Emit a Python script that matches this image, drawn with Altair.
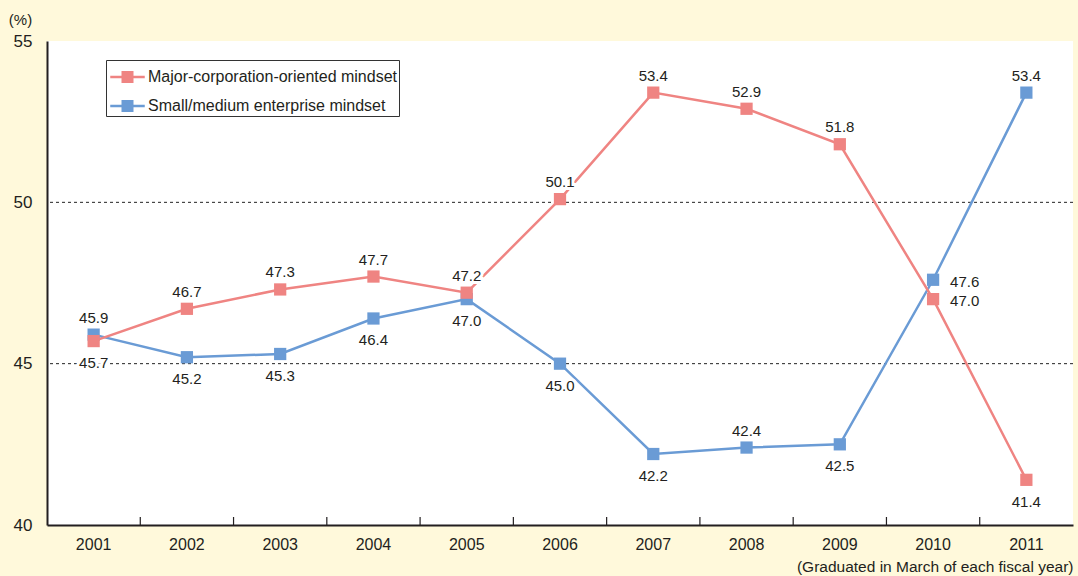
import altair as alt
import pandas as pd

years = ["2001", "2002", "2003", "2004", "2005", "2006", "2007", "2008", "2009", "2010", "2011"]
series_names = ["Major-corporation-oriented mindset", "Small/medium enterprise mindset"]
major = [45.7, 46.7, 47.3, 47.7, 47.2, 50.1, 53.4, 52.9, 51.8, 47.0, 41.4]
small = [45.9, 45.2, 45.3, 46.4, 47.0, 45.0, 42.2, 42.4, 42.5, 47.6, 53.4]
major_place = ["below", "above", "above", "above", "above", "above", "above", "above", "above", "right", "below"]
small_place = ["above", "below", "below", "below", "below", "below", "below", "above", "below", "right", "above"]
y_ticks = [40, 45, 50, 55]
grid_values = [45, 50]

FONT = "Liberation Sans Narrow, Arial Narrow, Liberation Sans, sans-serif"
RED = "#EF8482"
BLUE = "#6A9BD5"
TXT = "#231F20"
W, H = 1026, 484
series_colors = {series_names[0]: RED, series_names[1]: BLUE}

rows = []
for name, vals, places in [(series_names[0], major, major_place), (series_names[1], small, small_place)]:
    for y, v, p in zip(years, vals, places):
        rows.append({"year": y, "series": name, "value": v, "place": p})
df = pd.DataFrame(rows)

xscale = alt.Scale(domain=years, paddingInner=0, paddingOuter=0)
yscale = alt.Scale(domain=[40, 55], nice=False, zero=False)
color = alt.Color("series:N", scale=alt.Scale(domain=series_names, range=[RED, BLUE]),
                  legend=alt.Legend(title=None, labelExpr="datum.label + '\u00a0\u00a0\u00a0'"))

x_axis = alt.Axis(title="(Graduated in March of each fiscal year)", labelAngle=0,
                  ticks=False, labelPadding=11, labelFontSize=16, domainColor=TXT, domainWidth=2,
                  titleAnchor="end", titleAlign="right", titleX=W, titleY=41,
                  titleBaseline="middle", titleFontWeight="normal", titleFontSize=15.5)
y_axis = alt.Axis(values=y_ticks, grid=False, ticks=False, labelPadding=15, labelFontSize=17,
                  domainColor=TXT, domainWidth=2, title="(%)", titleAngle=0,
                  titleAlign="center", titleBaseline="bottom", titleX=-27, titleY=-14,
                  titleFontWeight="normal", titleFontSize=15)
x_enc = alt.X("year:N", scale=xscale, sort=years, axis=x_axis)
y_enc = alt.Y("value:Q", scale=yscale, axis=y_axis)

base = alt.Chart(df)

grid = alt.Chart(pd.DataFrame({"value": grid_values})).mark_rule(
    color="#222", strokeDash=[3, 3], strokeWidth=1
).encode(y=y_enc)

ticks = alt.Chart(pd.DataFrame({"year": years[1:]})).mark_rule(color=TXT, strokeWidth=1.2).encode(
    x=alt.X("year:N", scale=xscale, sort=years, bandPosition=0, axis=x_axis),
    y=alt.value(H - 8), y2=alt.value(H)
)

layers = [grid, ticks]
for name in [series_names[1], series_names[0]]:
    sub = base.transform_filter(alt.datum.series == name)
    line = sub.mark_line(strokeWidth=2.5, color=series_colors[name]).encode(x=x_enc, y=y_enc)
    pts = sub.mark_point(shape="square", filled=True, size=150, opacity=1).encode(x=x_enc, y=y_enc, color=color)
    layers += [line, pts]

for place, kw in [("above", dict(dy=-17, align="center", baseline="middle")),
                  ("below", dict(dy=22, align="center", baseline="middle")),
                  ("right", dict(dx=17, dy=2, align="left", baseline="middle"))]:
    sub = base.transform_filter(alt.datum.place == place)
    halo = sub.mark_text(fontSize=15, fill="white", stroke="white", strokeWidth=6,
                         strokeOpacity=1, **kw).encode(
        x=x_enc, y=y_enc, text=alt.Text("value:Q", format=".1f"))
    txt = sub.mark_text(fontSize=15, color=TXT, **kw).encode(
        x=x_enc, y=y_enc, text=alt.Text("value:Q", format=".1f"))
    layers += [halo, txt]

legend_symbol = ("M-1.15,-0.09 L1.15,-0.09 L1.15,0.09 L-1.15,0.09 Z "
                 "M-0.4,-0.4 L0.4,-0.4 L0.4,0.4 L-0.4,0.4 Z")

chart = alt.layer(*layers).properties(
    width=W, height=H, background="#FFF9DB",
    padding={"left": 47, "top": 41, "right": 5, "bottom": 51},
    autosize=alt.AutoSizeParams(type="none")
).configure(font=FONT).configure_view(
    fill="white", stroke="transparent", strokeWidth=0
).configure_axis(
    labelFont=FONT, labelColor=TXT, titleColor=TXT, titleFont=FONT
).configure_legend(
    orient="none", legendX=59, legendY=19, strokeColor="#333", fillColor="white",
    padding=2, labelFont=FONT, labelFontSize=16, labelColor=TXT, symbolType=legend_symbol,
    symbolSize=900, symbolStrokeWidth=0, rowPadding=6, labelOffset=5.5, symbolOpacity=1,
    symbolOffset=4.5, labelLimit=0
)

chart.save("out.html", embed_options={"renderer": "svg", "actions": False})
